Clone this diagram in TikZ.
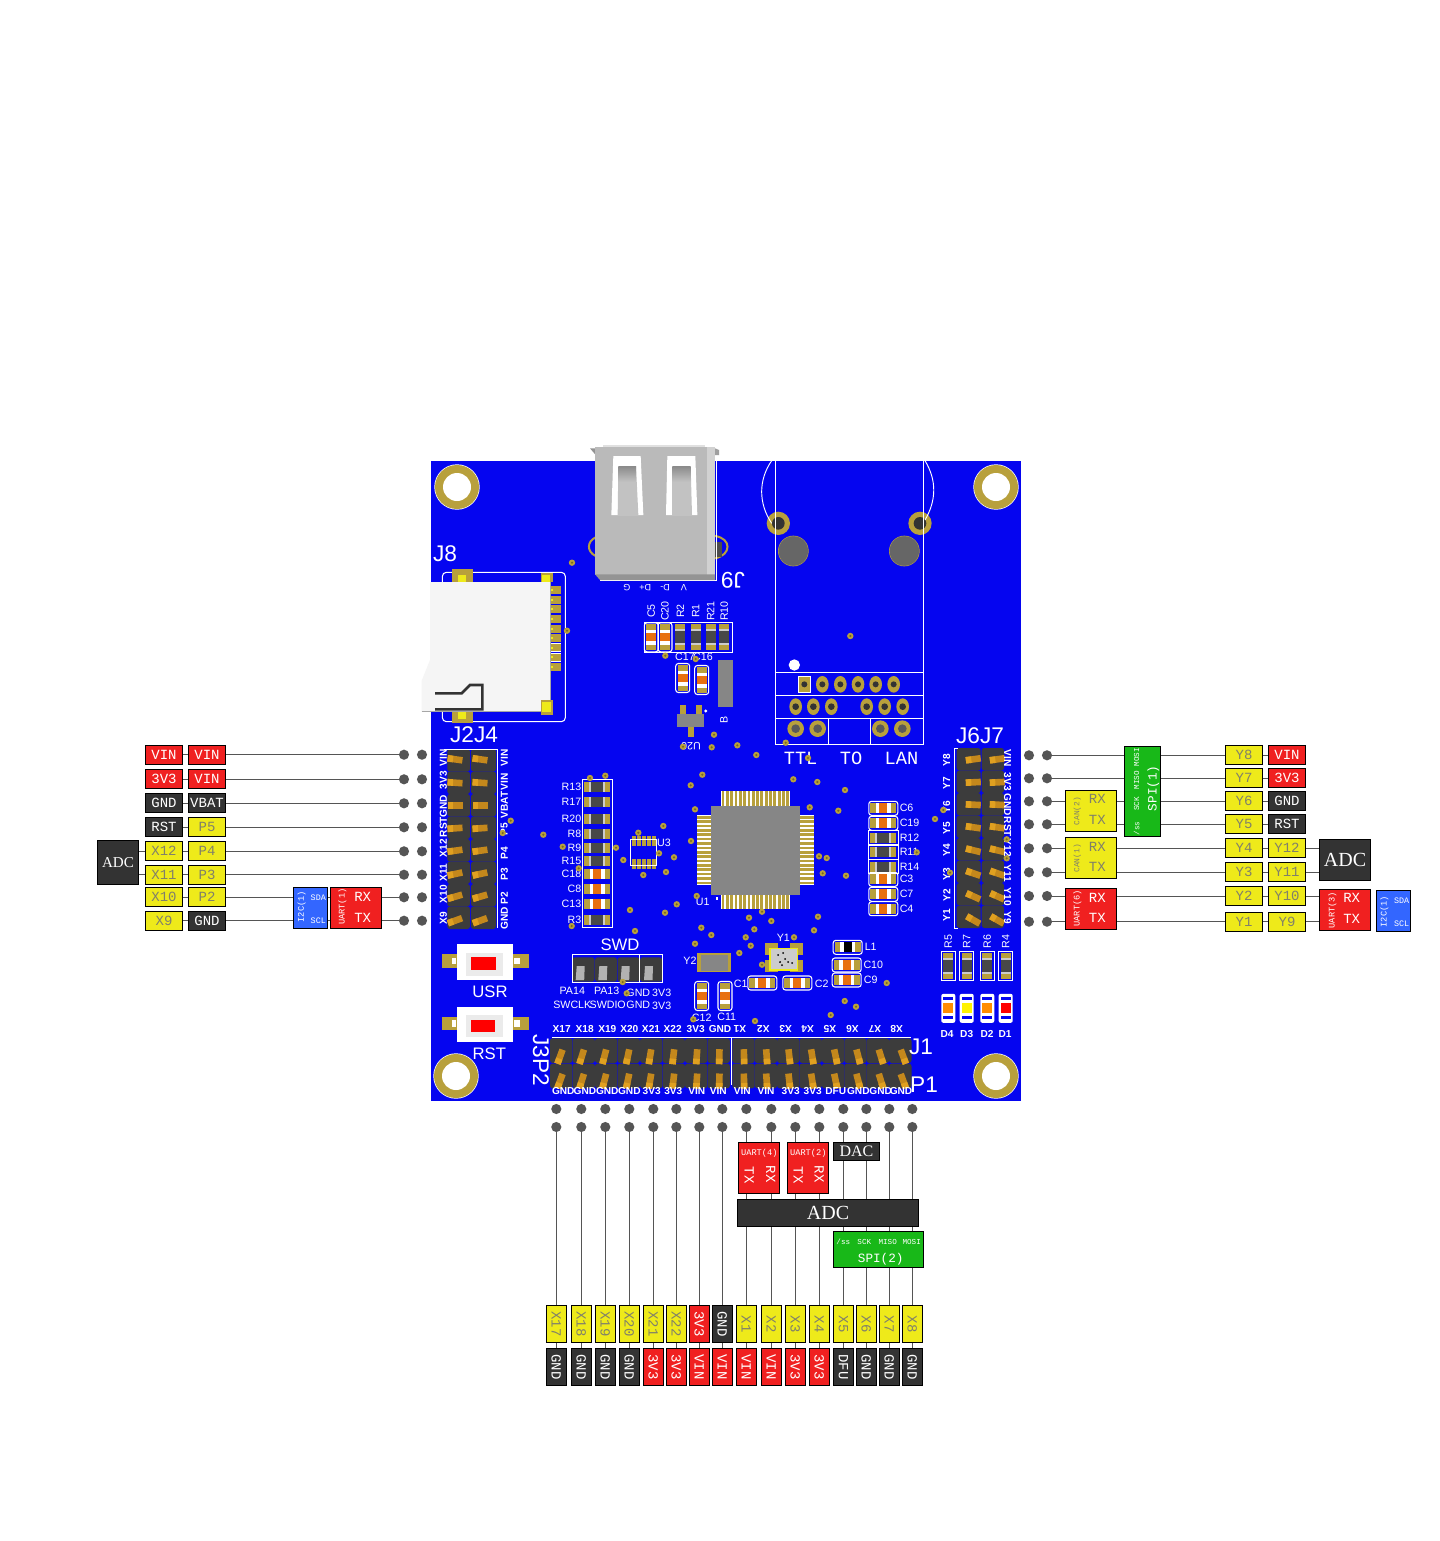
\documentclass[tikz,border=0pt]{standalone}
\usepackage{fontspec}
\usepackage{graphicx}
\setmainfont{Liberation Sans}
\newfontfamily\lmono{Liberation Mono}
\newfontfamily\lser{Liberation Serif}
\definecolor{pcb}{HTML}{0505F0}
\definecolor{gold}{HTML}{B8A03C}
\definecolor{viad}{HTML}{7A6A20}
\definecolor{wirec}{HTML}{555555}
\definecolor{hous}{HTML}{3C3C3C}
\definecolor{pinc}{HTML}{C4881C}
\definecolor{pinh}{HTML}{E0A020}
\definecolor{ored}{HTML}{F02020}
\definecolor{oblk}{HTML}{333333}
\definecolor{oyel}{HTML}{EEEA1A}
\definecolor{ogrn}{HTML}{18B818}
\definecolor{oblu}{HTML}{3366FF}
\definecolor{ygt}{HTML}{80806A}
\definecolor{chipo}{HTML}{E87010}
\definecolor{chipr}{HTML}{484848}
\definecolor{icg}{HTML}{868686}
\newcounter{sk}
\tikzset{
  lbl/.style={draw=black,line width=.55pt,inner sep=0pt,font=\fontsize{10.5}{11}\selectfont\lmono},
  lred/.style={fill=ored,text=white},
  lblk/.style={fill=oblk,text=white},
  lyel/.style={fill=oyel,text=ygt},
  lgrn/.style={fill=ogrn,text=white},
  lblu/.style={fill=oblu,text=white},
  wire/.style={draw=wirec,line width=.75pt},
  pdot/.style={circle,fill=wirec,inner sep=0pt,minimum size=7.6pt},
  silkl/.style={draw=white,line width=.7pt},
}
\newcommand{\LAB}[6]{\node[lbl,#5,minimum width=#3*.75pt,minimum height=#4*.75pt] (#1) at (#2) {#6};}
\newcommand{\tin}[6]{\stepcounter{sk}\node[inner sep=0pt,rotate=#3,text=#5,font=\fontsize{#4}{#4}\selectfont\lmono] (tin\arabic{sk}) at (#1,#2) {#6};}
\newcommand{\skfont}{\fontsize{8}{8}\selectfont}
\newcommand{\pinfont}{\fontsize{7.6}{8}\selectfont\bfseries}
\newcommand{\bigfont}{\fontsize{17}{17}\selectfont}
\newcommand{\medfont}{\fontsize{12.5}{13}\selectfont}
\newcommand{\psk}[4]{\stepcounter{sk}\node[inner sep=0pt,rotate=#3,text=white,font=\pinfont] (ps\arabic{sk}) at (#1,#2) {#4};}
\newcommand{\ssk}[4]{\stepcounter{sk}\node[inner sep=0pt,rotate=#3,text=white,font=\skfont] (ss\arabic{sk}) at (#1,#2) {#4};}
\newcommand{\bsk}[4]{\stepcounter{sk}\node[inner sep=0pt,rotate=#3,text=white,font=\bigfont] (bs\arabic{sk}) at (#1,#2) {#4};}
\newcommand{\msk}[4]{\stepcounter{sk}\node[inner sep=0pt,rotate=#3,text=white,font=\medfont] (ms\arabic{sk}) at (#1,#2) {#4};}
% capacitor-like chip with its white outline: x y rot colour
\newcommand{\chip}[4]{\begin{scope}[shift={(#1,#2)},rotate=#3]
  \draw[white,line width=.8pt,rounded corners=2pt] (-14.5,-7) rectangle (14.5,7);
  \fill[gold] (-13,-5) rectangle (13,5);
  \fill[white] (-7.5,-5) rectangle (7.5,5);
  \fill[#4] (-4,-5) rectangle (4,5);
\end{scope}}
% chip without outline (resistor look when dark)
\newcommand{\rchip}[4]{\begin{scope}[shift={(#1,#2)},rotate=#3]
  \fill[gold] (-13,-5) rectangle (13,5);
  \fill[black!20] (-8,-5) rectangle (8,5);
  \fill[#4] (-6,-5) rectangle (6,5);
\end{scope}}
\newcommand{\led}[3]{\fill[white,rounded corners=1.5pt] (#1-7,#2-14.5) rectangle (#1+7,#2+14.5);
  \fill[pcb] (#1-5,#2-11) rectangle (#1+5,#2+11);
  \fill[white] (#1-5,#2-8) rectangle (#1+5,#2+8);
  \fill[#3] (#1-5,#2-5) rectangle (#1+5,#2+5);}
\newcommand{\hunit}[4]{\fill[hous,rounded corners=2pt] (#1,#2) rectangle (#3,#4);}
\newcommand{\pin}[3]{\begin{scope}[shift={(#1,#2)},rotate=#3]
  \fill[pinc] (-7.5,-3.3) rectangle (7.5,3.3);
  \fill[pinh] (-7.5,-3.3) rectangle (-2,3.3);
\end{scope}}
\pgfdeclarelayer{bg}\pgfdeclarelayer{wires}\pgfsetlayers{bg,wires,main}
\begin{document}
\begin{tikzpicture}[x=.75pt,y=-.75pt]
\useasboundingbox (0,0) rectangle (1439,1541);
\begin{pgfonlayer}{bg}\fill[white] (0,0) rectangle (1439,1541);\end{pgfonlayer}

% ---------- board ----------
\fill[pcb] (431,461) rectangle (1021,1101);
\foreach \x/\y in {457/487,996/487,456/1076,996/1076}{
  \fill[white] (\x,\y) circle (22.7);
  \fill[gold] (\x,\y) circle (22);
  \fill[white] (\x,\y) circle (14);
}

% ---------- USB, SD card (zoom units) ----------
\begin{scope}[shift={(420,440)},x=.25pt,y=-.25pt]
  \draw[gold,line width=1.5pt] (527,292) .. controls (500,305) and (500,335) .. (527,348);
  \draw[gold,line width=1.5pt] (885,288) .. controls (935,295) and (935,345) .. (885,355);
  \fill[black!70] (885,305) rectangle (905,350);
  \draw[white,line width=.8pt] (540,421) -- (889,421) -- (889,30);
  \fill[gray!85] (510,25) -- (527,25) -- (527,45) -- cycle;
  \fill[gray!75] (885,25) -- (897,30) -- (897,45) -- (885,45) -- cycle;
  \fill[black!27] (525,20) rectangle (885,405);
  \fill[black!12] (550,14) rectangle (855,20);
  \fill[black!18] (862,20) rectangle (885,405);
  \fill[black!42] (525,403) -- (885,403) -- (885,420) -- (540,420) -- cycle;
  \fill[white] (580,48) -- (662,48) -- (670,225) -- (574,225) -- cycle;
  \fill[white] (742,48) -- (826,48) -- (832,225) -- (738,225) -- cycle;
  \fill[black!24] (595,80) -- (648,80) -- (655,225) -- (593,225) -- cycle;
  \fill[black!24] (757,80) -- (812,80) -- (816,225) -- (756,225) -- cycle;
  \shade[top color=black!45,bottom color=black!24] (595,80) rectangle (648,125);
  \shade[top color=black!45,bottom color=black!24] (757,80) rectangle (812,125);
  \draw[white,line width=.8pt,rounded corners=3pt] (67,397) rectangle (436,845);
  \foreach \y in {450,480,507,537,567,594,623,652,681}{
    \fill[white] (390,\y-13) rectangle (424,\y+13);
    \fill[gold] (392,\y-11) rectangle (422,\y+11);
    \fill[oyel] (392,\y-3) rectangle (400,\y+3);
  }
  \fill[gold] (97,388) rectangle (158,426); \fill[oyel] (113,405) rectangle (137,426);
  \fill[gold] (97,815) rectangle (158,850); \fill[oyel] (113,815) rectangle (137,837);
  \fill[black!4] (30,426) -- (390,426) -- (390,815) -- (5,815) -- (5,722) -- (30,660) -- cycle;
  \draw[black!35,line width=.4pt] (5,815) -- (390,815) -- (390,426);
  \draw[oblk,line width=2pt] (45,760) -- (125,760) -- (150,735) -- (187,735) -- (187,808) -- (45,808);
  \fill[gold] (362,398) rectangle (400,426); \fill[oyel] (366,405) rectangle (390,426);
  \fill[gold] (362,780) rectangle (400,825); \fill[oyel] (367,787) rectangle (392,815);
\end{scope}
\bsk{445}{553.5}{0}{J8}
\stepcounter{sk}\node[inner sep=0pt,rotate=180,text=white,font=\fontsize{6.8}{7}\selectfont] (usbpins) at (655,587.5) {V\hspace{1.2em}D-\hspace{1em}D+\hspace{1em}G};
\bsk{733}{580}{180}{J9}

% top small chips
\draw[silkl] (644.5,622.5) rectangle (732.5,652);
\foreach \x in {651.3,665}{\chip{\x}{637.3}{90}{chipo}}
\foreach \x in {680.3,695.7,710.7,724.3}{\rchip{\x}{637.3}{90}{chipr}}
\foreach \x/\t in {651.3/C5,665/C20,680.3/R2,695.7/R1,710.7/R21,724.3/R10}{\ssk{\x}{611}{90}{\t}}
\chip{682.7}{678}{90}{chipo}\chip{701.7}{680}{90}{chipo}
\ssk{685}{656.7}{0}{C17}\ssk{703}{656.7}{0}{C16}
\fill[icg] (717.7,660) rectangle (733.3,706.7);
\fill[gold] (679.5,705) rectangle (685.5,715);\fill[gold] (695.5,705) rectangle (701.5,715);\fill[gold] (687.5,726) rectangle (693.5,737);
\fill[icg] (676.7,714) rectangle (704,726.7);
\ssk{691}{746}{180}{U20}
\ssk{724}{720}{90}{B}
\fill[white] (705.7,711) circle (1.6);

% ---------- RJ45 ----------
\begin{scope}[shift={(730,440)},x=.25pt,y=-.25pt]
  \foreach \x in {145,570}{
    \fill[gold] (\x,250) circle (35); \fill[oblk] (\x,250) circle (19);}
  \foreach \x in {190,523}{
    \fill[gold] (\x,333) circle (46); \fill[black!60!red!4!gray] (\x,333) circle (44);\fill[black!60] (\x,333) circle (44);}
  \draw[silkl] (125,62) .. controls (85,120) and (85,190) .. (125,250);
  \draw[silkl] (585,62) .. controls (620,120) and (620,180) .. (585,240);
  \draw[silkl] (137,63) -- (137,912) -- (580,912) -- (580,63);
  \draw[silkl] (137,698) -- (580,698) (137,767) -- (580,767) (137,836) -- (580,836);
  \draw[silkl] (296,836) -- (296,912) (420,836) -- (420,912);
  \fill[white] (193,675) circle (17);
  \fill[white] (203,708) rectangle (243,759);
  \fill[gold] (206,711) rectangle (240,756);
  \fill[oblk] (223,733) circle (9);
  \foreach \x in {277,331,384,437,491}{\fill[gold] (\x,733) ellipse (19 and 25);\fill[oblk] (\x,733) circle (9);}
  \foreach \x in {197,250,304,410,464,518}{\fill[gold] (\x,800) ellipse (19 and 25);\fill[oblk] (\x,800) circle (10);}
  \foreach \x in {197,263,451,517}{\fill[gold] (\x,866) circle (25);\fill[black!65] (\x,866) circle (13);}
\end{scope}
\stepcounter{sk}\node[inner sep=0pt,text=white,font=\fontsize{14}{14}\selectfont\lmono] (ttl) at (851,758) {TTL~~TO~~LAN};

% ---------- J2 J4 headers ----------
\foreach \y in {749,771.5,794,816.5,839,861.5,884,906.5}{
  \hunit{447.3}{\y}{470}{\y+22.5}
  \hunit{471}{\y}{496}{\y+22.5}
}
\draw[silkl] (444,749) -- (497,749) -- (497,928);
\foreach \i/\y in {0/759.3,1/782.7,2/805.3,3/828.3,4/850.7,5/874,6/896.7,7/920.7}{
  \pin{455}{\y}{-8+4*\i}\pin{480}{\y}{-8+4*\i}
}
\bsk{474}{735}{0}{J2J4}
\foreach \y/\t in {758/VIN,780/3V3,806/GND,827/RST,848/X12,873/X11,894/X10,918/X9}{\psk{443.3}{\y}{90}{\t}}
\foreach \y/\t in {758/VIN,782/VIN,805/VBAT,829/P5,853/P4,874/P3,898/P2,918/GND}{\psk{504.3}{\y}{90}{\t}}

% ---------- J6 J7 headers ----------
\foreach \y in {748,770.5,793,815.5,838,860.5,883,905.5}{
  \hunit{956.7}{\y}{980.7}{\y+22.5}
  \hunit{981.7}{\y}{1004}{\y+22.5}
}
\draw[silkl] (958,748) -- (954.5,748) -- (954.5,928) -- (958,928);
\foreach \i/\y in {0/759.3,1/782.3,2/804.7,3/827.3,4/850.3,5/873.3,6/896.3,7/920}{
  \pin{973.3}{\y}{8-5.4*\i}\pin{997.3}{\y}{8-5.4*\i}
}
\bsk{980}{736}{0}{J6J7}
\foreach \y/\t in {760/Y8,783/Y7,807/Y6,828/Y5,850/Y4,874/Y3,895/Y2,915/Y1}{\psk{946.7}{\y}{90}{\t}}
\foreach \y/\t in {758/VIN,782/3V3,805/GND,827/RST,848/Y12,873/Y11,897/Y10,918/Y9}{\psk{1007.7}{\y}{-90}{\t}}

% ---------- bottom headers ----------
\foreach \x in {550,572.5,595,617.5,640,662.5,685,707.5,732.3,754.7,777.1,799.5,821.9,844.3,866.7,889.1}{
  \hunit{\x}{1038.3}{\x+22.4}{1063}
  \hunit{\x}{1063.6}{\x+22.4}{1088.3}
}
\draw[silkl] (552,1037.7) -- (911,1037.7) (731.3,1037.7) -- (731.3,1085);
\foreach \i/\x in {0/560,1/581.7,2/604.3,3/627.7,4/650,5/673.3,6/696.7,7/719.3,8/744,9/766.7,10/789.3,11/812.3,12/835.7,13/858.3,14/881,15/903.3}{
  \pin{\x}{1056.7}{70+\i*40/15}\pin{\x}{1081}{70+\i*40/15}
}
\foreach \x/\t in {561.7/X17,584.7/X18,607.3/X19,629.3/X20,651/X21,672.7/X22,695.7/3V3,720/GND}{\psk{\x}{1029.3}{0}{\t}}
\foreach \x/\t in {740/X1,763.3/X2,785.7/X3,807.7/X4,830/X5,852.3/X6,875/X7,896.7/X8}{\psk{\x}{1029.3}{180}{\t}}
\foreach \x/\t in {563.3/GND,585/GND,607.3/GND,629.3/GND,651.7/3V3,673.3/3V3,696.7/VIN,718.3/VIN,742.3/VIN,766/VIN,790.7/3V3,812.7/3V3,835.7/DFU,858.3/GND,880.7/GND,901/GND}{\psk{\x}{1090.7}{0}{\t}}
\bsk{921}{1047}{0}{J1}\bsk{924}{1085}{0}{P1}\bsk{541}{1060}{-90}{J3P2}

% ---------- MCU ----------
\fill[white] (720.7,791) rectangle (790,806);\fill[white] (720.7,895) rectangle (790,909);
\fill[white] (696.7,815) rectangle (711,885);\fill[white] (800,815) rectangle (814,885);
\foreach \i in {0,...,15}{
  \pgfmathsetmacro\p{720.7+(\i+.5)*4.33}
  \fill[gold] (\p-1.35,791) rectangle (\p+1.35,806);
  \fill[gold] (\p-1.35,895) rectangle (\p+1.35,909);
  \pgfmathsetmacro\q{815+(\i+.5)*4.38}
  \fill[gold] (696.7,\q-1.35) rectangle (711,\q+1.35);
  \fill[gold] (800,\q-1.35) rectangle (814,\q+1.35);
}
\fill[icg] (711,806) rectangle (800,895);
\ssk{702.7}{901.7}{0}{U1}
\fill[white] (715.5,897) rectangle (718,900);

% U3
\foreach \x in {634,639,644,649,654}{\fill[gold] (\x-1.6,836) rectangle (\x+1.6,846);\fill[gold] (\x-1.6,859) rectangle (\x+1.6,869);}
\draw[silkl] (630.3,839.3) rectangle (656.3,865.7);
\ssk{664}{843}{0}{U3}

% ---------- chip columns ----------
\draw[silkl] (582.7,779.3) rectangle (612.7,927.7);
\foreach \y/\t in {787.3/R13,802.3/R17,819/R20,834.3/R8,848.3/R9,861/R15,920/R3}{
  \rchip{597.3}{\y}{0}{chipr}
  \stepcounter{sk}\node[inner sep=0pt,anchor=east,text=white,font=\skfont] (col\arabic{sk}) at (581.5,\y) {\t};
}
\foreach \y/\t in {874.3/C18,888.7/C8,904/C13}{
  \begin{scope}[shift={(597.3,\y)}]\fill[gold] (-13,-5) rectangle (13,5);\fill[white] (-7.5,-5) rectangle (7.5,5);\fill[chipo] (-4,-5) rectangle (4,5);\end{scope}
  \stepcounter{sk}\node[inner sep=0pt,anchor=east,text=white,font=\skfont] (col\arabic{sk}) at (581.5,\y) {\t};
}
\foreach \y/\t in {808.3/C6,823.3/C19,879.3/C3,894.3/C7,908.7/C4}{
  \chip{883.3}{\y}{0}{chipo}
  \stepcounter{sk}\node[inner sep=0pt,anchor=west,text=white,font=\skfont] (col\arabic{sk}) at (899.5,\y) {\t};
}
\foreach \y/\t in {837.7/R12,852.3/R11,866.7/R14}{
  \draw[silkl] (868.5,\y-7) rectangle (898,\y+7);
  \rchip{883.3}{\y}{0}{chipr}
  \stepcounter{sk}\node[inner sep=0pt,anchor=west,text=white,font=\skfont] (col\arabic{sk}) at (899.5,\y) {\t};
}

% ---------- SWD ----------
\foreach \x in {572.5,595,617.5,640}{\hunit{\x}{957.3}{\x+22}{981.7}}
\draw[silkl] (572.3,954.3) -- (662.3,954.3) -- (662.3,982.3) -- (572.3,982.3) -- cycle (639,954.3) -- (639,982.3);
\foreach \x in {580.7,603.3,625.7,649}{\fill[black!30] (\x-4,966) -- (\x+4,966) -- (\x+3.5,980) -- (\x-5,980) -- cycle;}
\msk{620}{945}{0}{SWD}
\foreach \x/\y/\t in {572.3/991.3/PA14,606.7/991.3/PA13,638.3/992.7/GND,661.7/992.7/3V3,572.3/1004.7/SWCLK,607.7/1004.7/SWDIO,638.3/1005.3/GND,661.7/1006/3V3}{\ssk{\x}{\y}{0}{\t}}

% ---------- buttons ----------
\foreach \y in {954,1016.7}{\fill[gold] (442.3,\y) rectangle (529.3,\y+13.7);\fill[white] (452,\y+3.5) rectangle (456,\y+10);\fill[white] (514,\y+3.5) rectangle (520,\y+10);}
\fill[white] (457.3,944) rectangle (513.3,980);
\fill[black!8] (466,953) rectangle (503,976);
\fill[red] (471,957.3) rectangle (495.7,970);
\fill[white] (456.7,1006.7) rectangle (513.3,1041.7);
\fill[black!8] (466,1015) rectangle (503,1037);
\fill[red] (470.7,1020) rectangle (495,1031.7);
\msk{490}{991.7}{0}{USR}
\msk{489.3}{1053.3}{0}{RST}

% ---------- lower-right parts ----------
\fill[gold] (765,943.3) rectangle (778,955);\fill[gold] (790,943.3) rectangle (803.3,955);
\fill[gold] (765,960) rectangle (778,971.7);\fill[gold] (790,960) rectangle (803.3,971.7);
\draw[oyel,line width=.8pt,fill=black!20] (770,948.3) rectangle (797.7,970);
\foreach \x/\y in {778/955,783/953,785/959,780/962,788/962,782/965,792/963}{\fill[black] (\x,\y) circle (1);}
\ssk{783.3}{937.7}{0}{Y1}
\fill[gold] (697.3,953.3) rectangle (730.7,972.3);\fill[icg] (700.5,955) rectangle (728,971);
\ssk{690}{961}{0}{Y2}
\chip{701.7}{996}{90}{chipo}\chip{725}{996}{90}{chipo}
\ssk{701.7}{1017.7}{0}{C12}\ssk{726.7}{1016.7}{0}{C11}
\chip{762.3}{983}{0}{chipo}\chip{797.3}{983}{0}{chipo}
\ssk{740.7}{984}{0}{C1}\ssk{821.7}{984}{0}{C2}
\chip{847.7}{947.3}{0}{black}\chip{846.7}{965}{0}{chipo}\chip{846.7}{980}{0}{chipo}
\ssk{870.7}{946.7}{0}{L1}\ssk{873.3}{965}{0}{C10}\ssk{870.7}{980}{0}{C9}
\foreach \x/\t in {948.3/R5,966.7/R7,987.3/R6,1005.7/R4}{\draw[silkl] (\x-7,951) rectangle (\x+7,980);\rchip{\x}{965.7}{90}{chipr}\ssk{\x}{941.7}{90}{\t}}
\led{948.3}{1008.3}{orange!90!yellow}\led{966.7}{1008.3}{yellow}\led{987.3}{1008.3}{orange!90!yellow}\led{1005.7}{1008.3}{red}
\foreach \x/\t in {947/D4,966.7/D3,987/D2,1005/D1}{\psk{\x}{1034.3}{0}{\t}}

% ---------- vias ----------
\foreach \x/\y in {590/778,605.3/775.7,702.3/774.7,690.7/785.3,793.3/779.3,817.3/782,845/790,695/809.3,809.7/807.3,838.3/810.7,935/819,543.3/834.7,663.3/826,638.3/832.7,691/841,616/847.7,562.7/846.7,659/853.3,674/857.3,623.3/860,578.7/868.3,643.3/875,666/872,819/856.3,826.7/858,822.7/873.3,846/875.7,916.7/852.3,696.7/896,676.7/904.3,630/910,665/912.7,571.7/926,635/931,701.3/927.7,711.3/935,749/917.7,762/911.7,771.3/921,754.3/929.3,745.7/937.3,818/916.7,814/930.3,794/937.3,695/943.7,750.7/945.7,739.3/953,762/964.7,886.7/983,844.7/1001,856/1006.7,830.7/1015,755/1021,693.3/1019.3,572/562.7,567/630.7,665.3/655.7,695.7/659,714/734.7,711.7/747.3,737.3/745.3,683/746.7,756.3/755,785.7/742.7,808/758,510.7/820.7,502.7/833,943.3/810,950/872.7,1006.7/839.3,1006.7/858.3,622.7/982,626.7/993.3,850.3/636}{
  \fill[gold] (\x,\y) circle (3.2);
  \fill[viad] (\x,\y) circle (1.2);
}

% ---------- dots ----------
\foreach \n/\y in {1/754.7,2/779.3,3/803.3,4/827.3,5/851.3,6/874.7,7/897.3,8/920.7}{
  \node[pdot] (LA\n) at (404,\y) {};
  \node[pdot] (LB\n) at (422,\y) {};
}
\foreach \n/\y in {1/755.3,2/778.3,3/801.3,4/824.3,5/848.3,6/872.3,7/896,8/921.7}{
  \node[pdot] (RB\n) at (1029,\y) {};
  \node[pdot] (RA\n) at (1047,\y) {};
}
\foreach \n/\x in {1/556.3,2/581.3,3/605.3,4/629.3,5/653.3,6/676.3,7/699.3,8/722.3,9/746.3,10/771.3,11/795.3,12/819.3,13/843.3,14/866.3,15/889.3,16/912.3}{
  \node[pdot] (BB\n) at (\x,1109) {};
  \node[pdot] (BA\n) at (\x,1127) {};
}

% ---------- left labels ----------
\LAB{lc1}{164,754.7}{37.5}{19}{lred}{VIN}\LAB{ld1}{207,754.7}{37.5}{19}{lred}{VIN}
\LAB{lc2}{164,779.3}{37.5}{19}{lred}{3V3}\LAB{ld2}{207,779.3}{37.5}{19}{lred}{VIN}
\LAB{lc3}{164,803.3}{37.5}{19}{lblk}{GND}\LAB{ld3}{207,803.3}{37.5}{19}{lblk}{VBAT}
\LAB{lc4}{164,827.3}{37.5}{19}{lblk}{RST}\LAB{ld4}{207,827.3}{37.5}{19}{lyel}{P5}
\LAB{lc5}{164,851.3}{37.5}{19}{lyel}{X12}\LAB{ld5}{207,851.3}{37.5}{19}{lyel}{P4}
\LAB{lc6}{164,874.7}{37.5}{19}{lyel}{X11}\LAB{ld6}{207,874.7}{37.5}{19}{lyel}{P3}
\LAB{lc7}{164,897.3}{37.5}{19}{lyel}{X10}\LAB{ld7}{207,897.3}{37.5}{19}{lyel}{P2}
\LAB{lc8}{164,920.7}{37.5}{19}{lyel}{X9}\LAB{ld8}{207,920.7}{37.5}{19}{lblk}{GND}
\LAB{ladc}{118,862.7}{41.4}{44}{lblk}{\fontsize{11.3}{12}\selectfont\lser ADC}
\LAB{li2c}{310.5,908}{34.4}{41.4}{lblu}{}
\LAB{luart}{356,908}{51.4}{41.4}{lred}{}
\tin{301.7}{906.7}{90}{6.5}{white}{I2C(1)}
\tin{318.3}{897.7}{0}{6.3}{white}{SDA}
\tin{318.3}{920.7}{0}{6.3}{white}{SCL}
\tin{342.3}{906.7}{90}{6.5}{white}{UART(1)}
\tin{362.7}{896.7}{0}{10.5}{white}{RX}
\tin{362.7}{918.3}{0}{10.5}{white}{TX}

% ---------- right labels ----------
\LAB{ry1}{1244,755.3}{37.5}{19}{lyel}{Y8}\LAB{rz1}{1287,755.3}{37.5}{19}{lred}{VIN}
\LAB{ry2}{1244,778.3}{37.5}{19}{lyel}{Y7}\LAB{rz2}{1287,778.3}{37.5}{19}{lred}{3V3}
\LAB{ry3}{1244,801.3}{37.5}{19}{lyel}{Y6}\LAB{rz3}{1287,801.3}{37.5}{19}{lblk}{GND}
\LAB{ry4}{1244,824.3}{37.5}{19}{lyel}{Y5}\LAB{rz4}{1287,824.3}{37.5}{19}{lblk}{RST}
\LAB{ry5}{1244,848.3}{37.5}{19}{lyel}{Y4}\LAB{rz5}{1287,848.3}{37.5}{19}{lyel}{Y12}
\LAB{ry6}{1244,872.3}{37.5}{19}{lyel}{Y3}\LAB{rz6}{1287,872.3}{37.5}{19}{lyel}{Y11}
\LAB{ry7}{1244,896}{37.5}{19}{lyel}{Y2}\LAB{rz7}{1287,896}{37.5}{19}{lyel}{Y10}
\LAB{ry8}{1244,921.7}{37.5}{19}{lyel}{Y1}\LAB{rz8}{1287,921.7}{37.5}{19}{lyel}{Y9}
\LAB{radc}{1345,860}{51.4}{41.4}{lblk}{\fontsize{15}{16}\selectfont\lser ADC}
\LAB{ruart3}{1345,910}{51.4}{41.4}{lred}{}
\LAB{ri2c}{1393.5,911}{34.4}{41.4}{lblu}{}
\LAB{rspi}{1142.5,791.3}{36.4}{90}{lgrn}{}
\LAB{rcan2}{1091,811}{51.4}{41.4}{lyel}{}
\LAB{rcan1}{1091,858}{51.4}{41.4}{lyel}{}
\LAB{ruart6}{1091,908.8}{51.4}{41}{lred}{}
\tin{1136.7}{828.3}{90}{5.7}{white}{/ss}
\tin{1136.7}{804}{90}{5.7}{white}{SCK}
\tin{1136.7}{780}{90}{5.7}{white}{MISO}
\tin{1136.7}{757.3}{90}{5.7}{white}{MOSI}
\tin{1153.3}{788.3}{90}{9.5}{white}{SPI(1)}
\tin{1077.3}{811}{90}{5.9}{ygt}{CAN(2)}
\tin{1097.3}{799.3}{0}{10.5}{ygt}{RX}
\tin{1097.3}{820}{0}{10.5}{ygt}{TX}
\tin{1077.3}{858.3}{90}{5.9}{ygt}{CAN(1)}
\tin{1097.3}{846.7}{0}{10.5}{ygt}{RX}
\tin{1097.3}{867.3}{0}{10.5}{ygt}{TX}
\tin{1077.3}{908.3}{90}{6.5}{white}{UART(6)}
\tin{1097.3}{897.7}{0}{10.5}{white}{RX}
\tin{1097.3}{918.3}{0}{10.5}{white}{TX}
\tin{1332.3}{910}{90}{6.5}{white}{UART(3)}
\tin{1351.7}{897.7}{0}{10.5}{white}{RX}
\tin{1351.7}{919}{0}{10.5}{white}{TX}
\tin{1384.3}{911.7}{90}{6.5}{white}{I2C(1)}
\tin{1401.7}{900.7}{0}{6.3}{white}{SDA}
\tin{1401.7}{923.3}{0}{6.3}{white}{SCL}

% ---------- bottom labels ----------
\foreach \n/\x/\t/\s/\u/\v in {
 1/556.3/X17/lyel/GND/lblk,2/581.3/X18/lyel/GND/lblk,3/605.3/X19/lyel/GND/lblk,4/629.3/X20/lyel/GND/lblk,
 5/653.3/X21/lyel/3V3/lred,6/676.3/X22/lyel/3V3/lred,7/699.3/3V3/lred/VIN/lred,8/722.3/GND/lblk/VIN/lred,
 9/746.3/X1/lyel/VIN/lred,10/771.3/X2/lyel/VIN/lred,11/795.3/X3/lyel/3V3/lred,12/819.3/X4/lyel/3V3/lred,
 13/843.3/X5/lyel/DFU/lblk,14/866.3/X6/lyel/GND/lblk,15/889.3/X7/lyel/GND/lblk,16/912.3/X8/lyel/GND/lblk}{
  \node[lbl,\s,minimum width=19.3*.75pt,minimum height=37.5*.75pt] (bx\n) at (\x,1324) {\rotatebox{-90}{\t}};
  \node[lbl,\v,minimum width=19.3*.75pt,minimum height=37.5*.75pt] (by\n) at (\x,1367) {\rotatebox{-90}{\u}};
  \begin{pgfonlayer}{wires}
    \draw[wire] (BA\n) -- (bx\n.north);
    \draw[wire] (bx\n.south) -- (by\n.north);
  \end{pgfonlayer}
}
\LAB{buart4}{759,1168}{41.4}{51.4}{lred}{}
\LAB{buart2}{808,1168}{41.4}{51.4}{lred}{}
\LAB{bdac}{856.5,1151.5}{46.4}{18.4}{lblk}{\fontsize{12}{12}\selectfont\lser DAC}
\LAB{badc}{828,1213}{181.4}{27.4}{lblk}{\fontsize{15}{16}\selectfont\lser ADC}
\LAB{bspi}{878.5,1249.5}{90.4}{36.4}{lgrn}{}
\tin{759.3}{1153.3}{0}{6.5}{white}{UART(4)}
\tin{749.3}{1175}{-90}{10.5}{white}{TX}
\tin{770.7}{1174}{-90}{10.5}{white}{RX}
\tin{808.3}{1153.3}{0}{6.5}{white}{UART(2)}
\tin{798.3}{1175}{-90}{10.5}{white}{TX}
\tin{819.3}{1174}{-90}{10.5}{white}{RX}
\tin{843.3}{1241.7}{0}{5.7}{white}{/ss}
\tin{864.3}{1241.7}{0}{5.7}{white}{SCK}
\tin{887.7}{1241.7}{0}{5.7}{white}{MISO}
\tin{911.7}{1241.7}{0}{5.7}{white}{MOSI}
\tin{880.7}{1259}{0}{9.5}{white}{SPI(2)}

% ---------- wires ----------
\begin{pgfonlayer}{wires}
\foreach \n in {1,...,8}{
  \draw[wire] (lc\n.east) -- (ld\n.west);
  \draw[wire] (ld\n.east) -- (LA\n);
  \draw[wire] (RA\n) -- (ry\n.west);
  \draw[wire] (ry\n.east) -- (rz\n.west);
}
\draw[wire] (ladc.east |- lc5.west) -- (lc5.west);
\draw[wire] (ladc.east |- lc6.west) -- (lc6.west);
\draw[wire] (rz5.east) -- (radc.west |- rz5.east);
\draw[wire] (rz6.east) -- (radc.west |- rz6.east);
\draw[wire] (rz7.east) -- (ruart3.west |- rz7.east);
\draw[wire] (rz8.east) -- (ruart3.west |- rz8.east);
\end{pgfonlayer}
\end{tikzpicture}
\end{document}
